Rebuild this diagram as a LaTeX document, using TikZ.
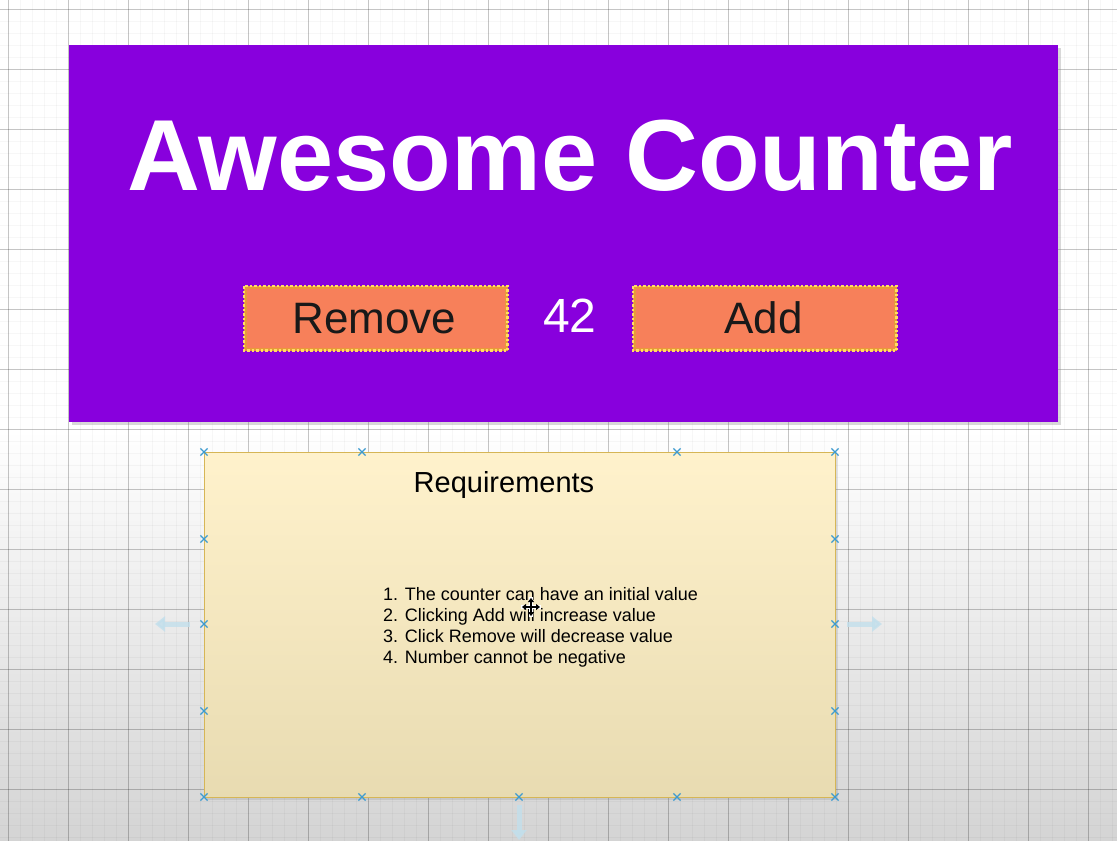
\documentclass[tikz,border=0pt]{standalone}
\usepackage{fontspec}
\setmainfont{Liberation Sans}
\usetikzlibrary{shadows,arrows.meta,shapes.misc}
\definecolor{purp}{HTML}{8800DD}
\definecolor{btn}{HTML}{F7805A}
\definecolor{btnedge}{HTML}{E89A3A}
\definecolor{btndot}{HTML}{FFDD66}
\definecolor{noteA}{HTML}{FFF2CC}
\definecolor{noteB}{HTML}{E8DBB1}
\definecolor{noteedge}{HTML}{D6B656}
\definecolor{handlecol}{HTML}{3D9BD0}
\definecolor{hovercol}{HTML}{C2DFEC}
\definecolor{bgbottom}{HTML}{D4D4D4}
\tikzset{
  btnbox/.style={anchor=north west, fill=btn, draw=btnedge, line width=2.5pt,
    minimum width=261pt, minimum height=62pt, inner sep=0pt},
  btndots/.style={draw=btndot, line width=2.5pt, dash pattern=on 2.5pt off 2pt},
  btntext/.style={anchor=base, font=\fontsize{44}{44}\selectfont, text=black!90, inner sep=0pt},
  handlemark/.style={cross out, draw=handlecol, line width=1.2pt, minimum size=6pt, inner sep=0pt},
  hoverarrow/.style={draw=hovercol, line width=5pt, -{Triangle[length=10pt,width=15pt]}, opacity=0.8},
  listline/.style={anchor=base west, font=\fontsize{18}{21}\selectfont, inner sep=0pt, text=black},
}
\begin{document}
\begin{tikzpicture}[x=1pt,y=-1pt]
\useasboundingbox (0,0) rectangle (1117,841);
% background
\fill[white] (0,0) rectangle (1117,430);
\shade[top color=white, bottom color=bgbottom] (0,430) rectangle (1117,841);
% grid
\foreach \x in {8,20,...,1112} \draw[black, opacity=0.03, line width=0.6pt] (\x,0) -- (\x,841);
\foreach \y in {9,21,...,840} \draw[black, opacity=0.03, line width=0.6pt] (0,\y) -- (1117,\y);
\foreach \x in {8,68,...,1088} \draw[black, opacity=0.2, line width=0.8pt] (\x,0) -- (\x,841);
\foreach \y in {9,69,...,789} \draw[black, opacity=0.2, line width=0.8pt] (0,\y) -- (1117,\y);

% purple panel
\node[anchor=north west, fill=purp, minimum width=989pt, minimum height=377pt, inner sep=0pt,
  drop shadow={shadow xshift=3pt, shadow yshift=-3pt, opacity=0.3}] (panel) at (69,45) {};
\node[anchor=base, text=white, inner sep=0pt, font=\bfseries\fontsize{101}{101}\selectfont] (title) at (570,190) {Awesome Counter};

% buttons
\node[btnbox] (remove) at (244,286) {};
\draw[btndots] (remove.north west) rectangle (remove.south east);
\node[btntext] (removetxt) at (374.5,333) {Remove};
\node[btnbox] (add) at (633,286) {};
\draw[btndots] (add.north west) rectangle (add.south east);
\node[btntext] (addtxt) at (763.5,333) {Add};
\node[btntext, text=white, font=\fontsize{48}{48}\selectfont] (count) at (570,332) {42};

% hover arrows
\coordinate (la1) at (190,624); \coordinate (la2) at (155,624);
\coordinate (ra1) at (847,624); \coordinate (ra2) at (882,624);
\coordinate (da1) at (519,805); \coordinate (da2) at (519,840);
\draw[hoverarrow] (la1) -- (la2);
\draw[hoverarrow] (ra1) -- (ra2);
\draw[hoverarrow] (da1) -- (da2);

% requirements note
\node[anchor=north west, minimum width=631pt, minimum height=345pt, inner sep=0pt,
  top color=noteA, bottom color=noteB, draw=noteedge, line width=1pt,
  drop shadow={shadow xshift=2pt, shadow yshift=-2pt, opacity=0.2}] (note) at (204,452) {};
\node[anchor=base, inner sep=0pt, font=\fontsize{29}{29}\selectfont] (reqtitle) at (504,492) {Requirements};
\node[listline] (l1) at (383,600) {1. The counter can have an initial value};
\node[listline] (l2) at (383,621) {2. Clicking Add will increase value};
\node[listline] (l3) at (383,642) {3. Click Remove will decrease value};
\node[listline] (l4) at (383,663) {4. Number cannot be negative};

% handles
\foreach \x in {204,362,677,835} \node[handlemark] at (\x,452) {};
\foreach \x in {204,362,519,677,835} \node[handlemark] at (\x,797) {};
\foreach \y in {539,624,711} {\node[handlemark] at (204,\y) {}; \node[handlemark] at (835,\y) {};}

% move cursor
\coordinate (cur) at (531,607);
\draw[white, line width=4pt] ([xshift=-10pt]cur) -- ([xshift=10pt]cur) ([yshift=-10pt]cur) -- ([yshift=10pt]cur);
\draw[black, line width=1.6pt, {Triangle[length=4pt,width=6pt]}-{Triangle[length=4pt,width=6pt]}] ([xshift=-9pt]cur) -- ([xshift=9pt]cur);
\draw[black, line width=1.6pt, {Triangle[length=4pt,width=6pt]}-{Triangle[length=4pt,width=6pt]}] ([yshift=-9pt]cur) -- ([yshift=9pt]cur);
\end{tikzpicture}
\end{document}
